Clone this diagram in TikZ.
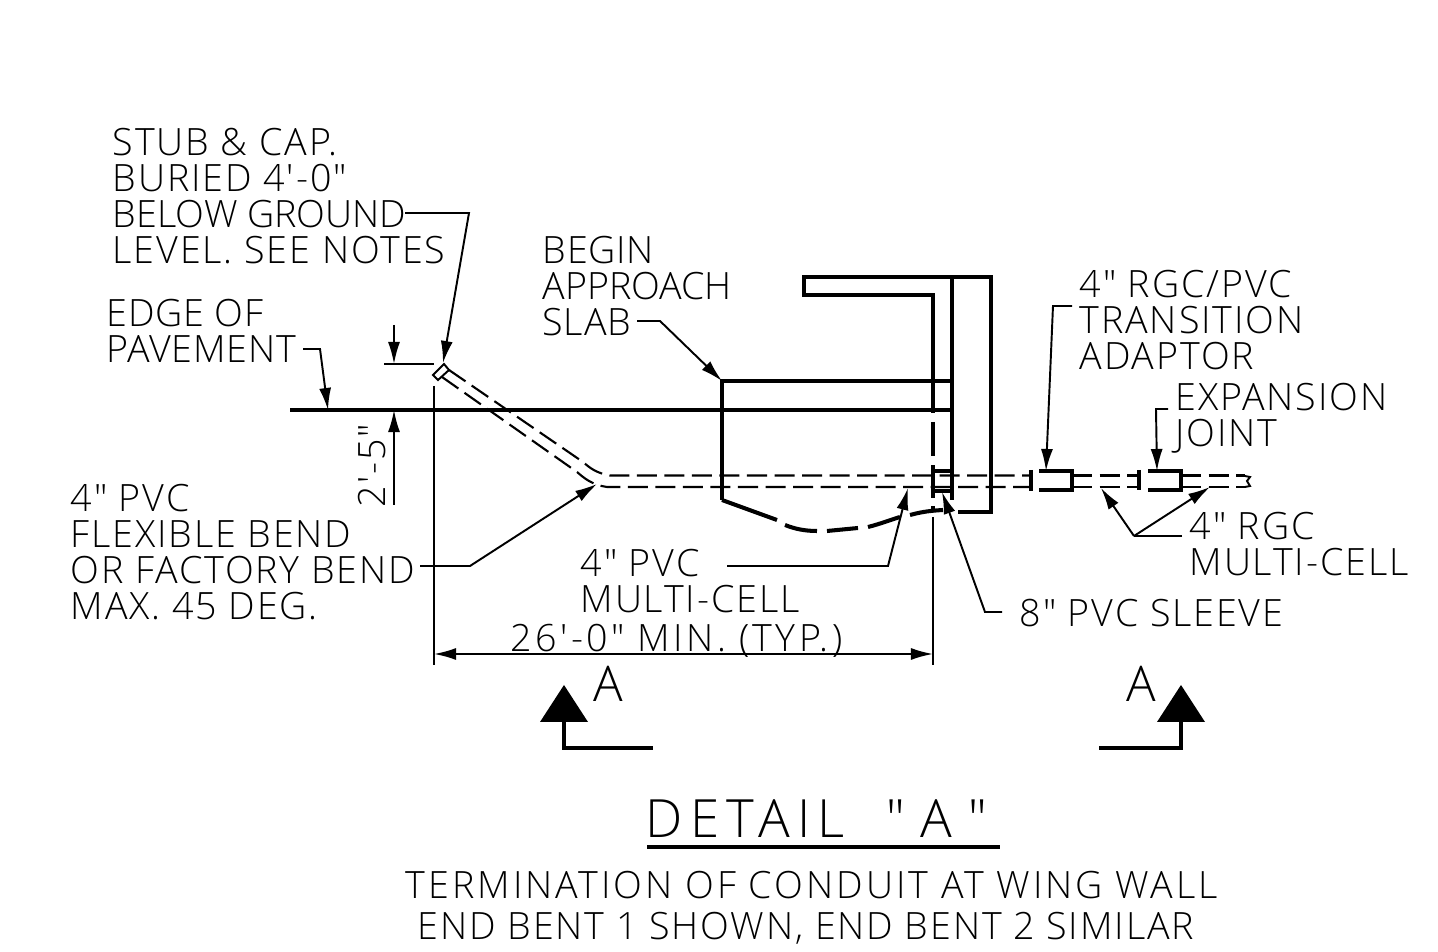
\documentclass[tikz,border=0pt]{standalone}
\usepackage{fontspec}
\usepackage{tikz}
\usetikzlibrary{arrows.meta}
\newfontfamily\cadfont[UprightFont={* Light},LetterSpace=5]{Open Sans}
\newfontfamily\cadwide[UprightFont={* Light},LetterSpace=9]{Open Sans}
\newfontfamily\cadsub[UprightFont={* Light},LetterSpace=8]{Open Sans}
\newfontfamily\cadtight[UprightFont={* Light},LetterSpace=2]{Open Sans}
\newfontfamily\cadsnug[UprightFont={* Light},LetterSpace=0]{Open Sans}
\newfontfamily\cadtitle[UprightFont={* Light},LetterSpace=14]{Open Sans}

\tikzset{
    note/.style={anchor=base west, inner sep=0pt, align=left, yshift=-0.02cm, font=\cadfont\fontsize{10.7}{10.24}\selectfont},
    widenote/.style={note, font=\cadwide\fontsize{10.7}{10.24}\selectfont},
    tightnote/.style={note, font=\cadtight\fontsize{10.7}{10.24}\selectfont},
    bigletter/.style={anchor=base, inner sep=0pt, font=\cadfont\fontsize{14}{14}\selectfont},
    thin line/.style={line width=0.55pt},
    heavy/.style={line width=1.15pt},
    pipe/.style={line width=0.6pt, dash pattern=on 0.2cm off 0.075cm},
    leader/.style={line width=0.55pt, -{Latex[length=0.22cm,width=0.12cm]}}
}

\begin{document}
\begin{tikzpicture}[x=0.01cm, y=-0.01cm]
    \useasboundingbox (0,0) rectangle (1438,952);

    % Wing wall and slab
    \draw[heavy] (958,512) -- (991,512) -- (991,277) -- (804,277) -- (804,295) -- (933,295) -- (933,413);
    \draw[heavy] (952,277) -- (952,500);
    \draw[heavy] (722,500) -- (722,381) -- (952,381);
    \draw[heavy] (290,410) -- (952,410);
    \draw[heavy, dash pattern=on 0.34cm off 0.09cm] (933,422) -- (933,498);
    \draw[heavy] (933,506) -- (933,510);

    % Broken edge under the slab
    \draw[heavy] (722,500) -- (777,520);
    \draw[heavy] (785,525) .. controls (795,529) and (805,531) .. (817,531);
    \draw[heavy] (827,531) -- (858,528);
    \draw[heavy] (868,527) .. controls (880,524) and (890,520) .. (900,517);
    \draw[heavy] (910,515) .. controls (918,513) and (925,511) .. (943,510);

    % Conduit
    \coordinate (capA) at (449,370);
    \coordinate (capB) at (442,377);
    \draw[thin line] (444,364) -- (433,375) -- (438,380) -- (449,370) -- cycle;
    \draw[pipe] (capA) -- (583,462) .. controls (590,468) and (596,473) .. (610,475.5) -- (1030,475.5);
    \draw[pipe] (capB) -- (577,472) .. controls (584,478) and (592,485) .. (607,487) -- (1030,487);
    \draw[pipe] (1072,475.5) -- (1139,475.5);
    \draw[pipe] (1072,487) -- (1139,487);
    \draw[pipe] (1181,475.5) -- (1245,475.5);
    \draw[pipe] (1181,487) -- (1245,487);
    \draw[thin line] (1245,476) -- (1250,477) -- (1247,481) -- (1250,486) -- (1245,487);

    % Sleeve and fittings
    \draw[heavy] (933,471) -- (952,471);
    \draw[heavy] (933,491) -- (952,491);
    \draw[heavy] (1031,470) -- (1031,491);
    \draw[heavy] (1039,471) -- (1072,471) -- (1072,490) -- (1039,490);
    \draw[heavy] (1139,470) -- (1139,490);
    \draw[heavy] (1148,471) -- (1181,471) -- (1181,490) -- (1148,490);

    % Dimensions
    \draw[thin line] (434,386) -- (434,665);
    \draw[thin line] (933,517) -- (933,665);
    \draw[thin line] (384,364) -- (434,364);
    \coordinate (dimL) at (434,654);
    \coordinate (dimR) at (933,654);
    \draw[leader, {Latex[length=0.22cm,width=0.12cm]}-{Latex[length=0.22cm,width=0.12cm]}] (dimL) -- (dimR);
    \draw[leader] (394,325) -- (394,364);
    \draw[leader] (394,505) -- (394,410);

    % Labels
    \node[note] (stubnote) at (112,262) {STUB \& CAP.\\BURIED 4′-0″\\{\cadsnug BELOW GROUND}\\LEVEL. SEE NOTES};
    \node[tightnote] (edgenote) at (106,361) {EDGE OF\\PAVEMENT};
    \node[tightnote] (slabnote) at (542,334) {BEGIN\\{\cadsnug APPROACH}\\SLAB};
    \node[note] (adaptnote) at (1079,368) {4″ RGC/PVC\\TRANSITION\\ADAPTOR};
    \node[note] (jointnote) at (1175,445) {EXPANSION\\JOINT};
    \node[note] (bendnote) at (70,618) {4″ PVC\\FLEXIBLE BEND\\OR FACTORY BEND\\MAX. 45 DEG.};
    \node[note] (pvcnote) at (580,611) {4″ PVC\\MULTI-CELL};
    \node[note] (rgcnote) at (1189,574) {4″ RGC\\MULTI-CELL};
    \node[note] (sleevenote) at (1019,625) {8″ PVC SLEEVE};
    \node[widenote] (lengthnote) at (510,650) {26′-0″ MIN. (TYP.)};
    \node[note, rotate=90, yshift=0.02cm] (depthnote) at (388,506) {2′-5″};

    % Leaders
    \draw[leader] (405,213) -- (469,213) -- (443,363);
    \draw[leader] (303,349) -- (320,349) -- (328,410);
    \draw[leader] (637,321) -- (660,321) -- (722,381);
    \draw[leader] (420,566) -- (470,566) -- (597,484);
    \draw[leader] (727,566) -- (888,566) -- (908,488);
    \draw[leader] (1002,612) -- (985,612) -- (942,492);
    \draw[leader] (1072,306) -- (1053,306) -- (1046,471);
    \draw[leader] (1168,409) -- (1156,409) -- (1157,471);
    \coordinate (rgcjoin) at (1134,536);
    \draw[thin line] (1182,536) -- (rgcjoin);
    \draw[leader] (rgcjoin) -- (1101,488);
    \draw[leader] (rgcjoin) -- (1210,487);

    % Section marks
    \fill (564,685) -- (540,722) -- (588,722) -- cycle;
    \fill (1181,685) -- (1157,722) -- (1205,722) -- cycle;
    \draw[heavy] (564,722) -- (564,748) -- (653,748);
    \draw[heavy] (1181,722) -- (1181,748) -- (1099,748);
    \node[bigletter] (secL) at (608,702) {A};
    \node[bigletter] (secR) at (1141,702) {A};

    % Title
    \node[anchor=base west, inner sep=0pt, font=\cadtitle\fontsize{15}{15}\selectfont] (title) at (645,838) {DETAIL\hspace{0.2cm} ″\hspace{0.16cm}A\hspace{0.16cm}″};
    \draw[heavy] (647,847) -- (1000,847);
    \node[note, font=\cadsub\fontsize{10.7}{10.24}\selectfont] (subA) at (405,897) {TERMINATION OF CONDUIT AT WING WALL};
    \node[note] (subB) at (417,938) {END BENT 1 SHOWN, END BENT 2 SIMILAR};
\end{tikzpicture}
\end{document}
